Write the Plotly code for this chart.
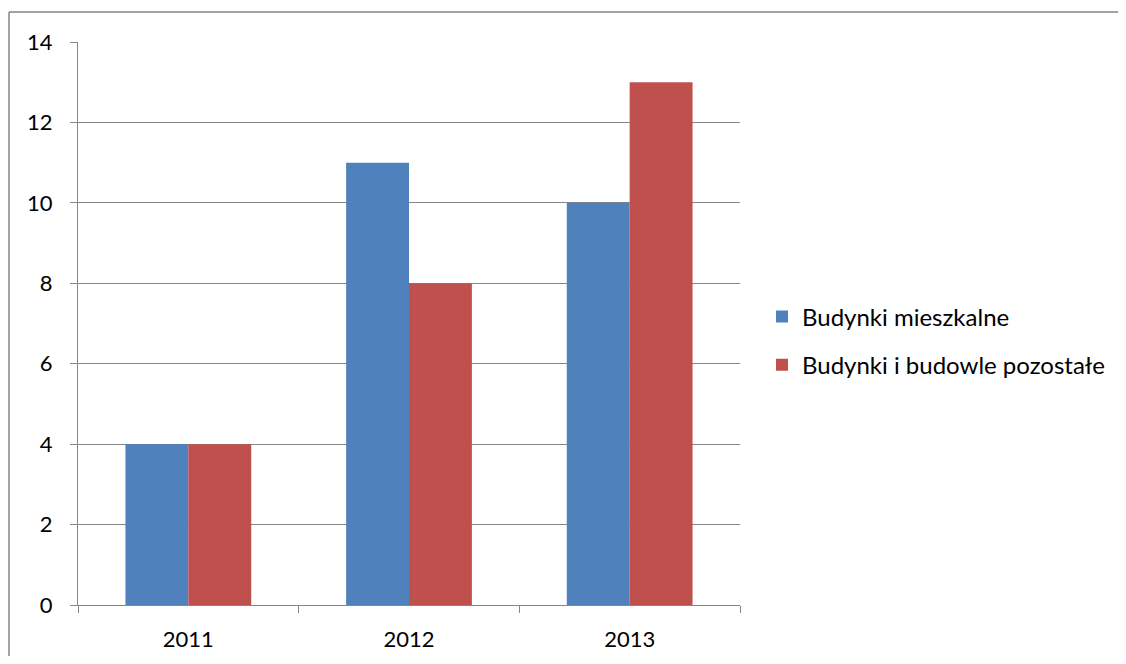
import plotly.graph_objects as go

years = ["2011", "2012", "2013"]
mieszkalne = [4, 11, 10]
pozostale = [4, 8, 13]
series_names = ["Budynki mieszkalne", "Budynki i budowle pozostałe"]
y_ticks = [0, 2, 4, 6, 8, 10, 12, 14]

# page has an 8px body margin; figure coordinates = page coordinates - 8
OFF = 8
W, H = 1110, 648
L = 78 - OFF
T = 42 - OFF
R = W - (740 - OFF)
B = H - (605 - OFF)
pw, ph = W - L - R, H - T - B

fig = go.Figure()
fig.add_trace(go.Bar(x=years, y=mieszkalne, name=series_names[0],
                     marker=dict(color="#4F81BD", line=dict(width=0)), legendgroup="a"))
fig.add_trace(go.Bar(x=years, y=pozostale, name=series_names[1],
                     marker=dict(color="#C0504D", line=dict(width=0)), legendgroup="b"))

grid = "#868686"
fig.update_layout(
    width=W, height=H,
    margin=dict(l=L, r=R, t=T, b=B, autoexpand=False),
    paper_bgcolor="white", plot_bgcolor="white",
    font=dict(family="Lato, Open Sans, sans-serif", size=22, color="#000000"),
    barmode="group", bargap=0.43, bargroupgap=0,
    xaxis=dict(showline=True, linecolor=grid, linewidth=1,
               ticks="outside", tickson="boundaries", ticklen=7, tickcolor=grid,
               showgrid=False, ticklabelstandoff=15, fixedrange=True),
    yaxis=dict(range=[0, 14], tickvals=y_ticks, showline=True, linecolor=grid, linewidth=1,
               ticks="outside", ticklen=7, tickcolor=grid,
               showgrid=True, gridcolor=grid, gridwidth=1, zeroline=False,
               ticklabelstandoff=13, fixedrange=True),
    legend=dict(x=(762 - OFF - L) / pw, y=1 - ((341 - OFF) - T) / ph,
                xanchor="left", yanchor="middle",
                font=dict(size=24), traceorder="grouped", tracegroupgap=14,
                bgcolor="rgba(0,0,0,0)", itemwidth=30),
    showlegend=True,
)

# outer chart border (top and left visible)
x0 = (9 - OFF - L) / pw
y0 = 1 + (T - (12 - OFF)) / ph
x1 = (W + 5 - L) / pw
y1 = -(B + 5) / ph
fig.add_shape(type="line", xref="paper", yref="paper", x0=x0, y0=y0, x1=x1, y1=y0,
              line=dict(color=grid, width=1.5))
fig.add_shape(type="line", xref="paper", yref="paper", x0=x0, y0=y0, x1=x0, y1=y1,
              line=dict(color=grid, width=1.5))

fig.write_html("out.html")
